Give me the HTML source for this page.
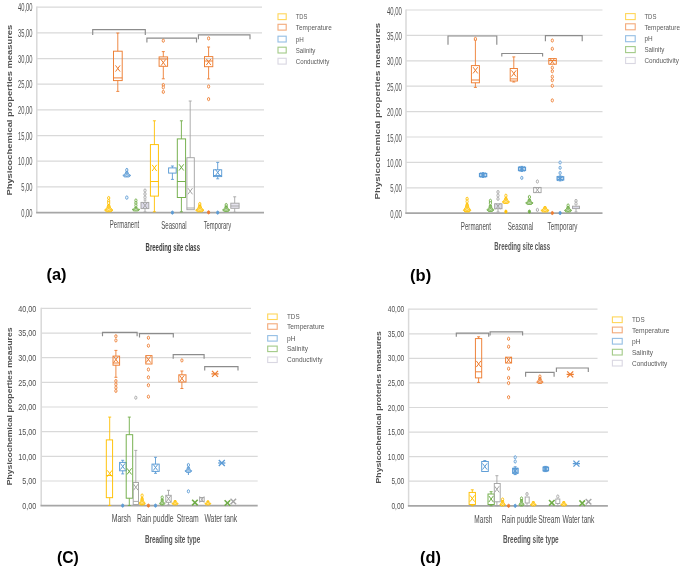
<!DOCTYPE html>
<html><head><meta charset="utf-8"><style>
html,body{margin:0;padding:0;background:#fff;overflow:hidden;}
svg{display:block;font-family:"Liberation Sans",sans-serif;filter:blur(0.45px);}
</style></head><body>
<svg width="685" height="573" viewBox="0 0 685 573">
<rect width="685" height="573" fill="#fff"/>
<line x1="36.8" y1="186.9" x2="264.0" y2="186.9" stroke="#D9D9D9" stroke-width="1.2" />
<line x1="36.8" y1="161.2" x2="264.0" y2="161.2" stroke="#D9D9D9" stroke-width="1.2" />
<line x1="36.8" y1="135.6" x2="264.0" y2="135.6" stroke="#D9D9D9" stroke-width="1.2" />
<line x1="36.8" y1="109.9" x2="264.0" y2="109.9" stroke="#D9D9D9" stroke-width="1.2" />
<line x1="36.8" y1="84.2" x2="264.0" y2="84.2" stroke="#D9D9D9" stroke-width="1.2" />
<line x1="36.8" y1="58.6" x2="262.0" y2="58.6" stroke="#D9D9D9" stroke-width="1.2" />
<line x1="36.8" y1="32.9" x2="262.0" y2="32.9" stroke="#D9D9D9" stroke-width="1.2" />
<line x1="36.8" y1="7.2" x2="262.0" y2="7.2" stroke="#D9D9D9" stroke-width="1.2" />
<line x1="36.8" y1="6.6" x2="36.8" y2="212.6" stroke="#D9D9D9" stroke-width="1.5" />
<line x1="36.1" y1="212.6" x2="264.0" y2="212.6" stroke="#A6A6A6" stroke-width="1.8" />
<text transform="translate(32.4,216.7)" font-size="11" text-anchor="end" font-weight="normal" fill="#4F4F4F" textLength="11.2" lengthAdjust="spacingAndGlyphs">0,00</text>
<text transform="translate(32.4,191.0)" font-size="11" text-anchor="end" font-weight="normal" fill="#4F4F4F" textLength="11.2" lengthAdjust="spacingAndGlyphs">5,00</text>
<text transform="translate(32.4,165.3)" font-size="11" text-anchor="end" font-weight="normal" fill="#4F4F4F" textLength="14.4" lengthAdjust="spacingAndGlyphs">10,00</text>
<text transform="translate(32.4,139.7)" font-size="11" text-anchor="end" font-weight="normal" fill="#4F4F4F" textLength="14.4" lengthAdjust="spacingAndGlyphs">15,00</text>
<text transform="translate(32.4,114.0)" font-size="11" text-anchor="end" font-weight="normal" fill="#4F4F4F" textLength="14.4" lengthAdjust="spacingAndGlyphs">20,00</text>
<text transform="translate(32.4,88.3)" font-size="11" text-anchor="end" font-weight="normal" fill="#4F4F4F" textLength="14.4" lengthAdjust="spacingAndGlyphs">25,00</text>
<text transform="translate(32.4,62.7)" font-size="11" text-anchor="end" font-weight="normal" fill="#4F4F4F" textLength="14.4" lengthAdjust="spacingAndGlyphs">30,00</text>
<text transform="translate(32.4,37.0)" font-size="11" text-anchor="end" font-weight="normal" fill="#4F4F4F" textLength="14.4" lengthAdjust="spacingAndGlyphs">35,00</text>
<text transform="translate(32.4,11.3)" font-size="11" text-anchor="end" font-weight="normal" fill="#4F4F4F" textLength="14.4" lengthAdjust="spacingAndGlyphs">40,00</text>
<text transform="translate(11.6,195.6) rotate(-90)" font-size="7.9" text-anchor="start" font-weight="bold" fill="#505050" textLength="170.9" lengthAdjust="spacingAndGlyphs">Physicochemical properties measures</text>
<text transform="translate(124.5,228.2)" font-size="10" text-anchor="middle" font-weight="normal" fill="#4F4F4F" textLength="29.4" lengthAdjust="spacingAndGlyphs">Permanent</text>
<text transform="translate(173.9,228.8)" font-size="10" text-anchor="middle" font-weight="normal" fill="#4F4F4F" textLength="25.5" lengthAdjust="spacingAndGlyphs">Seasonal</text>
<text transform="translate(217.4,229.0)" font-size="10" text-anchor="middle" font-weight="normal" fill="#4F4F4F" textLength="27.5" lengthAdjust="spacingAndGlyphs">Temporary</text>
<text transform="translate(172.8,251.0)" font-size="10" text-anchor="middle" font-weight="bold" fill="#404040" textLength="54.4" lengthAdjust="spacingAndGlyphs">Breeding site class</text>
<text transform="translate(56.5,280.0)" font-size="16.5" text-anchor="middle" font-weight="bold" fill="#000" textLength="20.0" lengthAdjust="spacingAndGlyphs">(a)</text>
<polyline points="92.7,35.1 92.7,29.6 145.3,29.6 145.3,35.1" fill="none" stroke="#8C8C8C" stroke-width="1.15"/>
<polyline points="146.9,42.5 146.9,38.1 196.5,38.1 196.5,42.5" fill="none" stroke="#8C8C8C" stroke-width="1.15"/>
<polyline points="198.4,39.3 198.4,34.9 250.0,34.9 250.0,39.3" fill="none" stroke="#8C8C8C" stroke-width="1.15"/>
<line x1="117.8" y1="33.0" x2="117.8" y2="51.2" stroke="#ED7D31" stroke-width="0.9" />
<line x1="117.8" y1="80.6" x2="117.8" y2="91.4" stroke="#ED7D31" stroke-width="0.9" />
<line x1="116.3" y1="33.0" x2="119.3" y2="33.0" stroke="#ED7D31" stroke-width="0.9" />
<line x1="116.3" y1="91.4" x2="119.3" y2="91.4" stroke="#ED7D31" stroke-width="0.9" />
<rect x="113.5" y="51.2" width="8.7" height="29.4" stroke="#ED7D31" fill="none" stroke-width="0.95" />
<line x1="113.5" y1="77.9" x2="122.2" y2="77.9" stroke="#ED7D31" stroke-width="0.95" />
<line x1="115.5" y1="65.4" x2="120.1" y2="71.6" stroke="#ED7D31" stroke-width="1" />
<line x1="115.5" y1="71.6" x2="120.1" y2="65.4" stroke="#ED7D31" stroke-width="1" />
<line x1="163.3" y1="51.6" x2="163.3" y2="56.9" stroke="#ED7D31" stroke-width="0.9" />
<line x1="163.3" y1="66.3" x2="163.3" y2="78.8" stroke="#ED7D31" stroke-width="0.9" />
<line x1="161.8" y1="51.6" x2="164.8" y2="51.6" stroke="#ED7D31" stroke-width="0.9" />
<line x1="161.8" y1="78.8" x2="164.8" y2="78.8" stroke="#ED7D31" stroke-width="0.9" />
<rect x="159.1" y="56.9" width="8.5" height="9.4" stroke="#ED7D31" fill="none" stroke-width="0.95" />
<line x1="159.1" y1="59.0" x2="167.6" y2="59.0" stroke="#ED7D31" stroke-width="0.95" />
<line x1="161.0" y1="59.5" x2="165.6" y2="65.7" stroke="#ED7D31" stroke-width="1" />
<line x1="161.0" y1="65.7" x2="165.6" y2="59.5" stroke="#ED7D31" stroke-width="1" />
<ellipse cx="163.3" cy="40.7" rx="1.1" ry="1.6" stroke="#ED7D31" fill="#fff" stroke-width="0.9"/>
<ellipse cx="163.3" cy="85.0" rx="1.1" ry="1.6" stroke="#ED7D31" fill="#fff" stroke-width="0.9"/>
<ellipse cx="163.3" cy="87.4" rx="1.1" ry="1.6" stroke="#ED7D31" fill="#fff" stroke-width="0.9"/>
<ellipse cx="163.3" cy="91.9" rx="1.1" ry="1.6" stroke="#ED7D31" fill="#fff" stroke-width="0.9"/>
<line x1="208.6" y1="47.0" x2="208.6" y2="56.6" stroke="#ED7D31" stroke-width="0.9" />
<line x1="208.6" y1="66.7" x2="208.6" y2="78.9" stroke="#ED7D31" stroke-width="0.9" />
<line x1="207.1" y1="47.0" x2="210.1" y2="47.0" stroke="#ED7D31" stroke-width="0.9" />
<line x1="207.1" y1="78.9" x2="210.1" y2="78.9" stroke="#ED7D31" stroke-width="0.9" />
<rect x="204.5" y="56.6" width="8.3" height="10.1" stroke="#ED7D31" fill="none" stroke-width="0.95" />
<line x1="204.5" y1="61.0" x2="212.8" y2="61.0" stroke="#ED7D31" stroke-width="0.95" />
<line x1="206.3" y1="58.9" x2="210.9" y2="65.1" stroke="#ED7D31" stroke-width="1" />
<line x1="206.3" y1="65.1" x2="210.9" y2="58.9" stroke="#ED7D31" stroke-width="1" />
<ellipse cx="208.6" cy="38.4" rx="1.1" ry="1.6" stroke="#ED7D31" fill="#fff" stroke-width="0.9"/>
<ellipse cx="208.6" cy="86.5" rx="1.1" ry="1.6" stroke="#ED7D31" fill="#fff" stroke-width="0.9"/>
<ellipse cx="208.6" cy="99.1" rx="1.1" ry="1.6" stroke="#ED7D31" fill="#fff" stroke-width="0.9"/>
<ellipse cx="208.6" cy="212.3" rx="1.1" ry="1.6" stroke="#ED7D31" fill="#ED7D31" stroke-width="0.9"/>
<ellipse cx="108.7" cy="198.0" rx="1.1" ry="1.6" stroke="#FFC000" fill="#fff" stroke-width="0.9"/>
<ellipse cx="108.7" cy="201.0" rx="1.1" ry="1.6" stroke="#FFC000" fill="#fff" stroke-width="0.9"/>
<ellipse cx="108.7" cy="203.0" rx="1.1" ry="1.6" stroke="#FFC000" fill="#fff" stroke-width="0.9"/>
<polygon points="107.8,204.5 109.6,204.5 110.6,207.8 113.0,210.2 111.0,211.8 106.4,211.8 104.5,210.2 106.8,207.8" fill="#FFC000" fill-opacity="0.8" stroke="#FFC000" stroke-width="0.8" stroke-linejoin="round"/>
<line x1="106.7" y1="208.4" x2="110.7" y2="210.8" stroke="#fff" stroke-width="0.6" stroke-opacity="0.55"/>
<line x1="106.7" y1="210.8" x2="110.7" y2="208.4" stroke="#fff" stroke-width="0.6" stroke-opacity="0.55"/>
<line x1="154.4" y1="120.8" x2="154.4" y2="144.6" stroke="#FFC000" stroke-width="0.9" />
<line x1="154.4" y1="196.1" x2="154.4" y2="211.8" stroke="#FFC000" stroke-width="0.9" />
<line x1="152.9" y1="120.8" x2="155.9" y2="120.8" stroke="#FFC000" stroke-width="0.9" />
<line x1="152.9" y1="211.8" x2="155.9" y2="211.8" stroke="#FFC000" stroke-width="0.9" />
<rect x="150.4" y="144.6" width="8.0" height="51.5" stroke="#FFC000" fill="none" stroke-width="0.95" />
<line x1="150.4" y1="181.5" x2="158.4" y2="181.5" stroke="#FFC000" stroke-width="0.95" />
<line x1="152.1" y1="164.8" x2="156.7" y2="171.0" stroke="#FFC000" stroke-width="1" />
<line x1="152.1" y1="171.0" x2="156.7" y2="164.8" stroke="#FFC000" stroke-width="1" />
<ellipse cx="199.8" cy="204.0" rx="1.1" ry="1.6" stroke="#FFC000" fill="#fff" stroke-width="0.9"/>
<polygon points="198.9,205.0 200.7,205.0 201.7,208.1 204.0,210.2 202.1,211.8 197.5,211.8 195.6,210.2 197.9,208.1" fill="#FFC000" fill-opacity="0.8" stroke="#FFC000" stroke-width="0.8" stroke-linejoin="round"/>
<line x1="197.8" y1="208.6" x2="201.8" y2="211.0" stroke="#fff" stroke-width="0.6" stroke-opacity="0.55"/>
<line x1="197.8" y1="211.0" x2="201.8" y2="208.6" stroke="#fff" stroke-width="0.6" stroke-opacity="0.55"/>
<line x1="126.8" y1="168.0" x2="126.8" y2="171.5" stroke="#5B9BD5" stroke-width="1" />
<ellipse cx="126.8" cy="170.0" rx="1.1" ry="1.6" stroke="#5B9BD5" fill="#fff" stroke-width="0.9"/>
<polygon points="125.9,171.5 127.7,171.5 128.6,174.0 130.8,175.4 129.0,177.0 124.6,177.0 122.8,175.4 125.0,174.0" fill="#5B9BD5" fill-opacity="0.8" stroke="#5B9BD5" stroke-width="0.8" stroke-linejoin="round"/>
<line x1="124.8" y1="174.2" x2="128.8" y2="176.5" stroke="#fff" stroke-width="0.6" stroke-opacity="0.55"/>
<line x1="124.8" y1="176.5" x2="128.8" y2="174.2" stroke="#fff" stroke-width="0.6" stroke-opacity="0.55"/>
<ellipse cx="126.8" cy="197.6" rx="1.2" ry="1.7" stroke="#5B9BD5" fill="#fff" stroke-width="0.9"/>
<line x1="172.4" y1="166.0" x2="172.4" y2="167.9" stroke="#5B9BD5" stroke-width="0.9" />
<line x1="172.4" y1="173.1" x2="172.4" y2="179.4" stroke="#5B9BD5" stroke-width="0.9" />
<line x1="170.9" y1="166.0" x2="173.9" y2="166.0" stroke="#5B9BD5" stroke-width="0.9" />
<line x1="170.9" y1="179.4" x2="173.9" y2="179.4" stroke="#5B9BD5" stroke-width="0.9" />
<rect x="168.6" y="167.9" width="7.6" height="5.2" stroke="#5B9BD5" fill="none" stroke-width="0.95" />
<ellipse cx="172.4" cy="212.6" rx="1.1" ry="1.6" stroke="#5B9BD5" fill="#5B9BD5" stroke-width="0.9"/>
<line x1="217.7" y1="162.4" x2="217.7" y2="169.8" stroke="#5B9BD5" stroke-width="0.9" />
<line x1="217.7" y1="176.6" x2="217.7" y2="178.8" stroke="#5B9BD5" stroke-width="0.9" />
<line x1="216.2" y1="162.4" x2="219.2" y2="162.4" stroke="#5B9BD5" stroke-width="0.9" />
<line x1="216.2" y1="178.8" x2="219.2" y2="178.8" stroke="#5B9BD5" stroke-width="0.9" />
<rect x="213.5" y="169.8" width="8.2" height="6.8" stroke="#5B9BD5" fill="none" stroke-width="0.95" />
<line x1="213.5" y1="175.5" x2="221.7" y2="175.5" stroke="#5B9BD5" stroke-width="0.95" />
<line x1="215.4" y1="169.4" x2="220.0" y2="175.6" stroke="#5B9BD5" stroke-width="1" />
<line x1="215.4" y1="175.6" x2="220.0" y2="169.4" stroke="#5B9BD5" stroke-width="1" />
<ellipse cx="217.7" cy="212.6" rx="1.1" ry="1.6" stroke="#5B9BD5" fill="#5B9BD5" stroke-width="0.9"/>
<ellipse cx="135.9" cy="200.5" rx="1.1" ry="1.6" stroke="#70AD47" fill="#fff" stroke-width="0.9"/>
<ellipse cx="135.9" cy="203.0" rx="1.1" ry="1.6" stroke="#70AD47" fill="#fff" stroke-width="0.9"/>
<ellipse cx="135.9" cy="205.5" rx="1.1" ry="1.6" stroke="#70AD47" fill="#fff" stroke-width="0.9"/>
<polygon points="135.0,207.0 136.8,207.0 137.6,208.8 139.8,209.4 138.0,211.0 133.8,211.0 132.1,209.4 134.2,208.8" fill="#70AD47" fill-opacity="0.8" stroke="#70AD47" stroke-width="0.8" stroke-linejoin="round"/>
<line x1="134.0" y1="208.6" x2="137.8" y2="211.0" stroke="#fff" stroke-width="0.6" stroke-opacity="0.55"/>
<line x1="134.0" y1="211.0" x2="137.8" y2="208.6" stroke="#fff" stroke-width="0.6" stroke-opacity="0.55"/>
<line x1="181.4" y1="120.8" x2="181.4" y2="138.9" stroke="#70AD47" stroke-width="0.9" />
<line x1="181.4" y1="197.5" x2="181.4" y2="211.8" stroke="#70AD47" stroke-width="0.9" />
<line x1="179.9" y1="120.8" x2="182.9" y2="120.8" stroke="#70AD47" stroke-width="0.9" />
<line x1="179.9" y1="211.8" x2="182.9" y2="211.8" stroke="#70AD47" stroke-width="0.9" />
<rect x="177.3" y="138.9" width="8.3" height="58.6" stroke="#70AD47" fill="none" stroke-width="0.95" />
<line x1="177.3" y1="181.5" x2="185.6" y2="181.5" stroke="#70AD47" stroke-width="0.95" />
<line x1="179.1" y1="164.3" x2="183.7" y2="170.5" stroke="#70AD47" stroke-width="1" />
<line x1="179.1" y1="170.5" x2="183.7" y2="164.3" stroke="#70AD47" stroke-width="1" />
<ellipse cx="226.2" cy="205.0" rx="1.1" ry="1.6" stroke="#70AD47" fill="#fff" stroke-width="0.9"/>
<polygon points="225.3,206.0 227.1,206.0 227.9,208.5 229.9,209.9 228.2,211.5 224.2,211.5 222.5,209.9 224.5,208.5" fill="#70AD47" fill-opacity="0.8" stroke="#70AD47" stroke-width="0.8" stroke-linejoin="round"/>
<line x1="224.3" y1="208.7" x2="228.0" y2="211.0" stroke="#fff" stroke-width="0.6" stroke-opacity="0.55"/>
<line x1="224.3" y1="211.0" x2="228.0" y2="208.7" stroke="#fff" stroke-width="0.6" stroke-opacity="0.55"/>
<line x1="145.0" y1="200.0" x2="145.0" y2="202.4" stroke="#A5A5A5" stroke-width="0.9" />
<line x1="145.0" y1="208.6" x2="145.0" y2="212.0" stroke="#A5A5A5" stroke-width="0.9" />
<line x1="143.5" y1="200.0" x2="146.5" y2="200.0" stroke="#A5A5A5" stroke-width="0.9" />
<line x1="143.5" y1="212.0" x2="146.5" y2="212.0" stroke="#A5A5A5" stroke-width="0.9" />
<rect x="141.0" y="202.4" width="7.8" height="6.2" stroke="#A5A5A5" fill="#DCDAE8" stroke-width="0.95" />
<line x1="142.7" y1="202.4" x2="147.3" y2="208.6" stroke="#A5A5A5" stroke-width="1" />
<line x1="142.7" y1="208.6" x2="147.3" y2="202.4" stroke="#A5A5A5" stroke-width="1" />
<ellipse cx="145.0" cy="190.5" rx="1.1" ry="1.6" stroke="#A5A5A5" fill="#fff" stroke-width="0.9"/>
<ellipse cx="145.0" cy="194.0" rx="1.1" ry="1.6" stroke="#A5A5A5" fill="#fff" stroke-width="0.9"/>
<ellipse cx="145.0" cy="197.4" rx="1.1" ry="1.6" stroke="#A5A5A5" fill="#fff" stroke-width="0.9"/>
<line x1="190.2" y1="101.0" x2="190.2" y2="157.7" stroke="#A5A5A5" stroke-width="0.9" />
<line x1="188.7" y1="101.0" x2="191.7" y2="101.0" stroke="#A5A5A5" stroke-width="0.9" />
<rect x="186.9" y="157.7" width="7.4" height="52.0" stroke="#A5A5A5" fill="none" stroke-width="0.95" />
<line x1="186.9" y1="208.0" x2="194.3" y2="208.0" stroke="#A5A5A5" stroke-width="0.95" />
<line x1="187.9" y1="188.1" x2="192.5" y2="194.3" stroke="#A5A5A5" stroke-width="1" />
<line x1="187.9" y1="194.3" x2="192.5" y2="188.1" stroke="#A5A5A5" stroke-width="1" />
<line x1="234.7" y1="196.8" x2="234.7" y2="203.2" stroke="#A5A5A5" stroke-width="0.9" />
<line x1="234.7" y1="208.3" x2="234.7" y2="212.3" stroke="#A5A5A5" stroke-width="0.9" />
<line x1="233.2" y1="196.8" x2="236.2" y2="196.8" stroke="#A5A5A5" stroke-width="0.9" />
<line x1="233.2" y1="212.3" x2="236.2" y2="212.3" stroke="#A5A5A5" stroke-width="0.9" />
<rect x="230.8" y="203.2" width="8.3" height="5.1" stroke="#A5A5A5" fill="#E6E4EE" stroke-width="0.95" />
<line x1="230.8" y1="206.0" x2="239.1" y2="206.0" stroke="#A5A5A5" stroke-width="0.95" />
<rect x="278.0" y="13.8" width="8.2" height="5.8" stroke="#FFC000" fill="#fff" stroke-width="1.1" stroke-opacity="0.65"/>
<text transform="translate(295.8,19.3)" font-size="7.4" text-anchor="start" font-weight="normal" fill="#595959" textLength="11.6" lengthAdjust="spacingAndGlyphs">TDS</text>
<rect x="278.0" y="24.3" width="8.2" height="5.8" stroke="#ED7D31" fill="#fff" stroke-width="1.1" stroke-opacity="0.65"/>
<text transform="translate(295.8,29.8)" font-size="7.4" text-anchor="start" font-weight="normal" fill="#595959" textLength="36.0" lengthAdjust="spacingAndGlyphs">Temperature</text>
<rect x="278.0" y="36.2" width="8.2" height="5.8" stroke="#5B9BD5" fill="#fff" stroke-width="1.1" stroke-opacity="0.65"/>
<text transform="translate(295.8,41.7)" font-size="7.4" text-anchor="start" font-weight="normal" fill="#595959" textLength="8.0" lengthAdjust="spacingAndGlyphs">pH</text>
<rect x="278.0" y="47.2" width="8.2" height="5.8" stroke="#70AD47" fill="#fff" stroke-width="1.1" stroke-opacity="0.65"/>
<text transform="translate(295.8,52.7)" font-size="7.4" text-anchor="start" font-weight="normal" fill="#595959" textLength="19.6" lengthAdjust="spacingAndGlyphs">Salinity</text>
<rect x="278.0" y="58.3" width="8.2" height="5.8" stroke="#C4C2D2" fill="#fff" stroke-width="1.1" stroke-opacity="0.65"/>
<text transform="translate(295.8,63.8)" font-size="7.4" text-anchor="start" font-weight="normal" fill="#595959" textLength="33.4" lengthAdjust="spacingAndGlyphs">Conductivity</text>
<line x1="406.0" y1="187.8" x2="602.5" y2="187.8" stroke="#D9D9D9" stroke-width="1.2" />
<line x1="406.0" y1="162.4" x2="602.5" y2="162.4" stroke="#D9D9D9" stroke-width="1.2" />
<line x1="406.0" y1="137.0" x2="602.5" y2="137.0" stroke="#D9D9D9" stroke-width="1.2" />
<line x1="406.0" y1="111.6" x2="602.5" y2="111.6" stroke="#D9D9D9" stroke-width="1.2" />
<line x1="406.0" y1="86.2" x2="602.5" y2="86.2" stroke="#D9D9D9" stroke-width="1.2" />
<line x1="406.0" y1="60.8" x2="602.5" y2="60.8" stroke="#D9D9D9" stroke-width="1.2" />
<line x1="406.0" y1="35.4" x2="602.5" y2="35.4" stroke="#D9D9D9" stroke-width="1.2" />
<line x1="406.0" y1="10.0" x2="602.5" y2="10.0" stroke="#D9D9D9" stroke-width="1.2" />
<line x1="406.0" y1="9.4" x2="406.0" y2="213.2" stroke="#D9D9D9" stroke-width="1.5" />
<line x1="405.3" y1="213.2" x2="602.5" y2="213.2" stroke="#A6A6A6" stroke-width="1.8" />
<text transform="translate(401.8,217.7)" font-size="11" text-anchor="end" font-weight="normal" fill="#4F4F4F" textLength="11.6" lengthAdjust="spacingAndGlyphs">0,00</text>
<text transform="translate(401.8,192.3)" font-size="11" text-anchor="end" font-weight="normal" fill="#4F4F4F" textLength="11.6" lengthAdjust="spacingAndGlyphs">5,00</text>
<text transform="translate(401.8,166.9)" font-size="11" text-anchor="end" font-weight="normal" fill="#4F4F4F" textLength="14.9" lengthAdjust="spacingAndGlyphs">10,00</text>
<text transform="translate(401.8,141.5)" font-size="11" text-anchor="end" font-weight="normal" fill="#4F4F4F" textLength="14.9" lengthAdjust="spacingAndGlyphs">15,00</text>
<text transform="translate(401.8,116.1)" font-size="11" text-anchor="end" font-weight="normal" fill="#4F4F4F" textLength="14.9" lengthAdjust="spacingAndGlyphs">20,00</text>
<text transform="translate(401.8,90.7)" font-size="11" text-anchor="end" font-weight="normal" fill="#4F4F4F" textLength="14.9" lengthAdjust="spacingAndGlyphs">25,00</text>
<text transform="translate(401.8,65.3)" font-size="11" text-anchor="end" font-weight="normal" fill="#4F4F4F" textLength="14.9" lengthAdjust="spacingAndGlyphs">30,00</text>
<text transform="translate(401.8,39.9)" font-size="11" text-anchor="end" font-weight="normal" fill="#4F4F4F" textLength="14.9" lengthAdjust="spacingAndGlyphs">35,00</text>
<text transform="translate(401.8,14.5)" font-size="11" text-anchor="end" font-weight="normal" fill="#4F4F4F" textLength="14.9" lengthAdjust="spacingAndGlyphs">40,00</text>
<text transform="translate(380.4,199.4) rotate(-90)" font-size="7.9" text-anchor="start" font-weight="bold" fill="#505050" textLength="176.6" lengthAdjust="spacingAndGlyphs">Physicochemical properties measures</text>
<text transform="translate(475.9,229.8)" font-size="10" text-anchor="middle" font-weight="normal" fill="#4F4F4F" textLength="30.2" lengthAdjust="spacingAndGlyphs">Permanent</text>
<text transform="translate(520.5,230.0)" font-size="10" text-anchor="middle" font-weight="normal" fill="#4F4F4F" textLength="25.5" lengthAdjust="spacingAndGlyphs">Seasonal</text>
<text transform="translate(562.5,229.6)" font-size="10" text-anchor="middle" font-weight="normal" fill="#4F4F4F" textLength="29.8" lengthAdjust="spacingAndGlyphs">Temporary</text>
<text transform="translate(522.2,249.7)" font-size="10" text-anchor="middle" font-weight="bold" fill="#595959" textLength="55.7" lengthAdjust="spacingAndGlyphs">Breeding site class</text>
<text transform="translate(420.6,280.5)" font-size="16.5" text-anchor="middle" font-weight="bold" fill="#000" textLength="21.1" lengthAdjust="spacingAndGlyphs">(b)</text>
<polyline points="448.0,44.8 448.0,36.0 496.8,36.0 496.8,44.8" fill="none" stroke="#8C8C8C" stroke-width="1.15"/>
<polyline points="501.8,56.4 501.8,53.5 542.6,53.5 542.6,56.4" fill="none" stroke="#8C8C8C" stroke-width="1.15"/>
<polyline points="545.4,41.3 545.4,35.6 582.2,35.6 582.2,41.3" fill="none" stroke="#8C8C8C" stroke-width="1.15"/>
<line x1="475.4" y1="40.0" x2="475.4" y2="65.6" stroke="#ED7D31" stroke-width="0.9" />
<line x1="475.4" y1="82.8" x2="475.4" y2="87.4" stroke="#ED7D31" stroke-width="0.9" />
<line x1="473.9" y1="40.0" x2="476.9" y2="40.0" stroke="#ED7D31" stroke-width="0.9" />
<line x1="473.9" y1="87.4" x2="476.9" y2="87.4" stroke="#ED7D31" stroke-width="0.9" />
<rect x="471.4" y="65.6" width="8.0" height="17.2" stroke="#ED7D31" fill="none" stroke-width="0.95" />
<line x1="471.4" y1="80.0" x2="479.4" y2="80.0" stroke="#ED7D31" stroke-width="0.95" />
<line x1="473.1" y1="67.2" x2="477.7" y2="73.4" stroke="#ED7D31" stroke-width="1" />
<line x1="473.1" y1="73.4" x2="477.7" y2="67.2" stroke="#ED7D31" stroke-width="1" />
<ellipse cx="475.4" cy="38.9" rx="1.1" ry="1.6" stroke="#ED7D31" fill="#fff" stroke-width="0.9"/>
<line x1="513.8" y1="56.9" x2="513.8" y2="68.5" stroke="#ED7D31" stroke-width="0.9" />
<line x1="513.8" y1="81.0" x2="513.8" y2="82.0" stroke="#ED7D31" stroke-width="0.9" />
<line x1="512.3" y1="56.9" x2="515.3" y2="56.9" stroke="#ED7D31" stroke-width="0.9" />
<line x1="512.3" y1="82.0" x2="515.3" y2="82.0" stroke="#ED7D31" stroke-width="0.9" />
<rect x="510.2" y="68.5" width="7.2" height="12.5" stroke="#ED7D31" fill="none" stroke-width="0.95" />
<line x1="510.2" y1="78.9" x2="517.4" y2="78.9" stroke="#ED7D31" stroke-width="0.95" />
<line x1="511.5" y1="70.4" x2="516.1" y2="76.6" stroke="#ED7D31" stroke-width="1" />
<line x1="511.5" y1="76.6" x2="516.1" y2="70.4" stroke="#ED7D31" stroke-width="1" />
<rect x="548.8" y="58.6" width="7.5" height="5.6" stroke="#ED7D31" fill="none" stroke-width="0.95" />
<line x1="548.8" y1="60.5" x2="556.3" y2="60.5" stroke="#ED7D31" stroke-width="0.95" />
<line x1="550.0" y1="58.4" x2="554.6" y2="64.6" stroke="#ED7D31" stroke-width="1" />
<line x1="550.0" y1="64.6" x2="554.6" y2="58.4" stroke="#ED7D31" stroke-width="1" />
<ellipse cx="552.3" cy="40.5" rx="1.1" ry="1.6" stroke="#ED7D31" fill="#fff" stroke-width="0.9"/>
<ellipse cx="552.3" cy="48.8" rx="1.1" ry="1.6" stroke="#ED7D31" fill="#fff" stroke-width="0.9"/>
<ellipse cx="552.3" cy="67.7" rx="1.1" ry="1.6" stroke="#ED7D31" fill="#fff" stroke-width="0.9"/>
<ellipse cx="552.3" cy="71.2" rx="1.1" ry="1.6" stroke="#ED7D31" fill="#fff" stroke-width="0.9"/>
<ellipse cx="552.3" cy="76.7" rx="1.1" ry="1.6" stroke="#ED7D31" fill="#fff" stroke-width="0.9"/>
<ellipse cx="552.3" cy="80.2" rx="1.1" ry="1.6" stroke="#ED7D31" fill="#fff" stroke-width="0.9"/>
<ellipse cx="552.3" cy="85.8" rx="1.1" ry="1.6" stroke="#ED7D31" fill="#fff" stroke-width="0.9"/>
<ellipse cx="552.3" cy="100.4" rx="1.1" ry="1.6" stroke="#ED7D31" fill="#fff" stroke-width="0.9"/>
<ellipse cx="552.3" cy="213.0" rx="1.1" ry="1.6" stroke="#ED7D31" fill="#ED7D31" stroke-width="0.9"/>
<ellipse cx="467.1" cy="198.8" rx="1.1" ry="1.6" stroke="#FFC000" fill="#fff" stroke-width="0.9"/>
<ellipse cx="467.1" cy="201.5" rx="1.1" ry="1.6" stroke="#FFC000" fill="#fff" stroke-width="0.9"/>
<polygon points="466.2,203.5 468.0,203.5 468.8,207.3 470.9,210.4 469.2,212.0 465.0,212.0 463.3,210.4 465.4,207.3" fill="#FFC000" fill-opacity="0.8" stroke="#FFC000" stroke-width="0.8" stroke-linejoin="round"/>
<line x1="465.2" y1="208.2" x2="469.0" y2="210.6" stroke="#fff" stroke-width="0.6" stroke-opacity="0.55"/>
<line x1="465.2" y1="210.6" x2="469.0" y2="208.2" stroke="#fff" stroke-width="0.6" stroke-opacity="0.55"/>
<ellipse cx="505.9" cy="195.7" rx="1.1" ry="1.6" stroke="#FFC000" fill="#fff" stroke-width="0.9"/>
<ellipse cx="505.9" cy="211.6" rx="1.1" ry="1.6" stroke="#FFC000" fill="#FFC000" stroke-width="0.9"/>
<polygon points="505.0,197.5 506.8,197.5 507.6,200.2 509.6,201.9 507.9,203.5 503.9,203.5 502.2,201.9 504.2,200.2" fill="#FFC000" fill-opacity="0.8" stroke="#FFC000" stroke-width="0.8" stroke-linejoin="round"/>
<line x1="504.0" y1="200.5" x2="507.8" y2="202.9" stroke="#fff" stroke-width="0.6" stroke-opacity="0.55"/>
<line x1="504.0" y1="202.9" x2="507.8" y2="200.5" stroke="#fff" stroke-width="0.6" stroke-opacity="0.55"/>
<polygon points="544.1,206.5 545.9,206.5 546.8,209.0 549.1,210.4 547.3,212.0 542.7,212.0 540.9,210.4 543.2,209.0" fill="#FFC000" fill-opacity="0.8" stroke="#FFC000" stroke-width="0.8" stroke-linejoin="round"/>
<line x1="543.0" y1="209.2" x2="547.0" y2="211.5" stroke="#fff" stroke-width="0.6" stroke-opacity="0.55"/>
<line x1="543.0" y1="211.5" x2="547.0" y2="209.2" stroke="#fff" stroke-width="0.6" stroke-opacity="0.55"/>
<line x1="483.0" y1="172.3" x2="483.0" y2="177.8" stroke="#5B9BD5" stroke-width="1.1" />
<line x1="481.5" y1="172.7" x2="484.5" y2="172.7" stroke="#5B9BD5" stroke-width="1" />
<line x1="481.5" y1="177.4" x2="484.5" y2="177.4" stroke="#5B9BD5" stroke-width="1" />
<rect x="479.5" y="173.5" width="7.2" height="3.1" fill="#5B9BD5" fill-opacity="0.35" stroke="#5B9BD5" stroke-width="1.2"/>
<line x1="480.0" y1="172.8" x2="486.0" y2="177.3" stroke="#5B9BD5" stroke-width="1.1" />
<line x1="480.0" y1="177.3" x2="486.0" y2="172.8" stroke="#5B9BD5" stroke-width="1.1" />
<ellipse cx="521.8" cy="177.9" rx="1.1" ry="1.6" stroke="#5B9BD5" fill="#fff" stroke-width="0.9"/>
<line x1="521.8" y1="166.0" x2="521.8" y2="171.8" stroke="#5B9BD5" stroke-width="1.1" />
<line x1="520.3" y1="166.4" x2="523.3" y2="166.4" stroke="#5B9BD5" stroke-width="1" />
<line x1="520.3" y1="171.4" x2="523.3" y2="171.4" stroke="#5B9BD5" stroke-width="1" />
<rect x="518.5" y="167.3" width="7.0" height="3.2" fill="#5B9BD5" fill-opacity="0.35" stroke="#5B9BD5" stroke-width="1.2"/>
<line x1="518.8" y1="166.5" x2="524.8" y2="171.3" stroke="#5B9BD5" stroke-width="1.1" />
<line x1="518.8" y1="171.3" x2="524.8" y2="166.5" stroke="#5B9BD5" stroke-width="1.1" />
<ellipse cx="560.1" cy="162.5" rx="1.1" ry="1.6" stroke="#5B9BD5" fill="#fff" stroke-width="0.9"/>
<ellipse cx="560.1" cy="167.8" rx="1.1" ry="1.6" stroke="#5B9BD5" fill="#fff" stroke-width="0.9"/>
<ellipse cx="560.1" cy="173.0" rx="1.1" ry="1.6" stroke="#5B9BD5" fill="#fff" stroke-width="0.9"/>
<ellipse cx="560.1" cy="213.0" rx="1.1" ry="1.6" stroke="#5B9BD5" fill="#5B9BD5" stroke-width="0.9"/>
<line x1="560.1" y1="175.6" x2="560.1" y2="181.2" stroke="#5B9BD5" stroke-width="1.1" />
<line x1="558.6" y1="176.0" x2="561.6" y2="176.0" stroke="#5B9BD5" stroke-width="1" />
<line x1="558.6" y1="180.8" x2="561.6" y2="180.8" stroke="#5B9BD5" stroke-width="1" />
<rect x="557.1" y="176.8" width="6.6" height="3.1" fill="#5B9BD5" fill-opacity="0.35" stroke="#5B9BD5" stroke-width="1.2"/>
<line x1="557.1" y1="176.1" x2="563.1" y2="180.7" stroke="#5B9BD5" stroke-width="1.1" />
<line x1="557.1" y1="180.7" x2="563.1" y2="176.1" stroke="#5B9BD5" stroke-width="1.1" />
<ellipse cx="490.4" cy="200.8" rx="1.1" ry="1.6" stroke="#70AD47" fill="#fff" stroke-width="0.9"/>
<ellipse cx="490.4" cy="203.2" rx="1.1" ry="1.6" stroke="#70AD47" fill="#fff" stroke-width="0.9"/>
<polygon points="489.5,205.0 491.3,205.0 492.0,207.9 494.0,209.9 492.4,211.5 488.4,211.5 486.8,209.9 488.8,207.9" fill="#70AD47" fill-opacity="0.8" stroke="#70AD47" stroke-width="0.8" stroke-linejoin="round"/>
<line x1="488.6" y1="208.4" x2="492.2" y2="210.8" stroke="#fff" stroke-width="0.6" stroke-opacity="0.55"/>
<line x1="488.6" y1="210.8" x2="492.2" y2="208.4" stroke="#fff" stroke-width="0.6" stroke-opacity="0.55"/>
<ellipse cx="529.4" cy="197.0" rx="1.1" ry="1.6" stroke="#70AD47" fill="#fff" stroke-width="0.9"/>
<ellipse cx="529.4" cy="211.6" rx="1.1" ry="1.6" stroke="#70AD47" fill="#70AD47" stroke-width="0.9"/>
<polygon points="528.5,199.0 530.3,199.0 531.1,201.5 533.1,202.9 531.5,204.5 527.3,204.5 525.6,202.9 527.7,201.5" fill="#70AD47" fill-opacity="0.8" stroke="#70AD47" stroke-width="0.8" stroke-linejoin="round"/>
<line x1="527.5" y1="201.7" x2="531.3" y2="204.0" stroke="#fff" stroke-width="0.6" stroke-opacity="0.55"/>
<line x1="527.5" y1="204.0" x2="531.3" y2="201.7" stroke="#fff" stroke-width="0.6" stroke-opacity="0.55"/>
<ellipse cx="568.1" cy="205.5" rx="1.1" ry="1.6" stroke="#70AD47" fill="#fff" stroke-width="0.9"/>
<polygon points="567.2,206.5 569.0,206.5 569.8,209.0 571.8,210.4 570.1,212.0 566.1,212.0 564.4,210.4 566.4,209.0" fill="#70AD47" fill-opacity="0.8" stroke="#70AD47" stroke-width="0.8" stroke-linejoin="round"/>
<line x1="566.2" y1="209.2" x2="570.0" y2="211.5" stroke="#fff" stroke-width="0.6" stroke-opacity="0.55"/>
<line x1="566.2" y1="211.5" x2="570.0" y2="209.2" stroke="#fff" stroke-width="0.6" stroke-opacity="0.55"/>
<line x1="498.0" y1="208.7" x2="498.0" y2="212.0" stroke="#A5A5A5" stroke-width="0.9" />
<line x1="496.5" y1="212.0" x2="499.5" y2="212.0" stroke="#A5A5A5" stroke-width="0.9" />
<rect x="494.6" y="203.8" width="7.4" height="4.9" stroke="#A5A5A5" fill="#DCDAE8" stroke-width="0.95" />
<line x1="495.7" y1="203.1" x2="500.3" y2="209.3" stroke="#A5A5A5" stroke-width="1" />
<line x1="495.7" y1="209.3" x2="500.3" y2="203.1" stroke="#A5A5A5" stroke-width="1" />
<ellipse cx="498.0" cy="192.0" rx="1.1" ry="1.6" stroke="#A5A5A5" fill="#fff" stroke-width="0.9"/>
<ellipse cx="498.0" cy="195.5" rx="1.1" ry="1.6" stroke="#A5A5A5" fill="#fff" stroke-width="0.9"/>
<ellipse cx="498.0" cy="198.9" rx="1.1" ry="1.6" stroke="#A5A5A5" fill="#fff" stroke-width="0.9"/>
<rect x="533.6" y="187.5" width="7.5" height="5.1" stroke="#A5A5A5" fill="none" stroke-width="0.95" />
<line x1="535.1" y1="186.9" x2="539.7" y2="193.1" stroke="#A5A5A5" stroke-width="1" />
<line x1="535.1" y1="193.1" x2="539.7" y2="186.9" stroke="#A5A5A5" stroke-width="1" />
<ellipse cx="537.4" cy="181.5" rx="1.1" ry="1.6" stroke="#A5A5A5" fill="#fff" stroke-width="0.9"/>
<ellipse cx="537.4" cy="209.9" rx="1.1" ry="1.6" stroke="#A5A5A5" fill="#fff" stroke-width="0.9"/>
<line x1="576.0" y1="208.6" x2="576.0" y2="212.0" stroke="#A5A5A5" stroke-width="0.9" />
<line x1="574.5" y1="212.0" x2="577.5" y2="212.0" stroke="#A5A5A5" stroke-width="0.9" />
<rect x="572.5" y="206.2" width="7.0" height="2.4" stroke="#A5A5A5" fill="#DCDAE8" stroke-width="0.95" />
<ellipse cx="576.0" cy="200.9" rx="1.1" ry="1.6" stroke="#A5A5A5" fill="#fff" stroke-width="0.9"/>
<ellipse cx="576.0" cy="203.7" rx="1.1" ry="1.6" stroke="#A5A5A5" fill="#fff" stroke-width="0.9"/>
<rect x="625.6" y="13.6" width="9.6" height="6.0" stroke="#FFC000" fill="#fff" stroke-width="1.1" stroke-opacity="0.65"/>
<text transform="translate(644.4,19.3)" font-size="7.4" text-anchor="start" font-weight="normal" fill="#595959" textLength="12.0" lengthAdjust="spacingAndGlyphs">TDS</text>
<rect x="625.6" y="23.8" width="9.6" height="6.0" stroke="#ED7D31" fill="#fff" stroke-width="1.1" stroke-opacity="0.65"/>
<text transform="translate(644.4,29.5)" font-size="7.4" text-anchor="start" font-weight="normal" fill="#595959" textLength="35.6" lengthAdjust="spacingAndGlyphs">Temperature</text>
<rect x="625.6" y="35.7" width="9.6" height="6.0" stroke="#5B9BD5" fill="#fff" stroke-width="1.1" stroke-opacity="0.65"/>
<text transform="translate(644.4,41.4)" font-size="7.4" text-anchor="start" font-weight="normal" fill="#595959" textLength="8.2" lengthAdjust="spacingAndGlyphs">pH</text>
<rect x="625.6" y="46.6" width="9.6" height="6.0" stroke="#70AD47" fill="#fff" stroke-width="1.1" stroke-opacity="0.65"/>
<text transform="translate(644.4,52.3)" font-size="7.4" text-anchor="start" font-weight="normal" fill="#595959" textLength="19.8" lengthAdjust="spacingAndGlyphs">Salinity</text>
<rect x="625.6" y="57.5" width="9.6" height="6.0" stroke="#C4C2D2" fill="#fff" stroke-width="1.1" stroke-opacity="0.65"/>
<text transform="translate(644.4,63.2)" font-size="7.4" text-anchor="start" font-weight="normal" fill="#595959" textLength="34.4" lengthAdjust="spacingAndGlyphs">Conductivity</text>
<line x1="41.2" y1="481.0" x2="257.7" y2="481.0" stroke="#D9D9D9" stroke-width="1.2" />
<line x1="41.2" y1="456.3" x2="257.7" y2="456.3" stroke="#D9D9D9" stroke-width="1.2" />
<line x1="41.2" y1="431.7" x2="257.7" y2="431.7" stroke="#D9D9D9" stroke-width="1.2" />
<line x1="41.2" y1="407.0" x2="257.7" y2="407.0" stroke="#D9D9D9" stroke-width="1.2" />
<line x1="41.2" y1="382.4" x2="257.7" y2="382.4" stroke="#D9D9D9" stroke-width="1.2" />
<line x1="41.2" y1="357.7" x2="251.0" y2="357.7" stroke="#D9D9D9" stroke-width="1.2" />
<line x1="41.2" y1="333.1" x2="251.0" y2="333.1" stroke="#D9D9D9" stroke-width="1.2" />
<line x1="41.2" y1="308.4" x2="251.0" y2="308.4" stroke="#D9D9D9" stroke-width="1.2" />
<line x1="41.2" y1="307.8" x2="41.2" y2="505.6" stroke="#D9D9D9" stroke-width="1.5" />
<line x1="40.5" y1="505.6" x2="257.7" y2="505.6" stroke="#A6A6A6" stroke-width="1.8" />
<text transform="translate(36.2,508.9)" font-size="9" text-anchor="end" font-weight="normal" fill="#4F4F4F" textLength="14.0" lengthAdjust="spacingAndGlyphs">0,00</text>
<text transform="translate(36.2,484.3)" font-size="9" text-anchor="end" font-weight="normal" fill="#4F4F4F" textLength="14.0" lengthAdjust="spacingAndGlyphs">5,00</text>
<text transform="translate(36.2,459.6)" font-size="9" text-anchor="end" font-weight="normal" fill="#4F4F4F" textLength="18.0" lengthAdjust="spacingAndGlyphs">10,00</text>
<text transform="translate(36.2,435.0)" font-size="9" text-anchor="end" font-weight="normal" fill="#4F4F4F" textLength="18.0" lengthAdjust="spacingAndGlyphs">15,00</text>
<text transform="translate(36.2,410.3)" font-size="9" text-anchor="end" font-weight="normal" fill="#4F4F4F" textLength="18.0" lengthAdjust="spacingAndGlyphs">20,00</text>
<text transform="translate(36.2,385.7)" font-size="9" text-anchor="end" font-weight="normal" fill="#4F4F4F" textLength="18.0" lengthAdjust="spacingAndGlyphs">25,00</text>
<text transform="translate(36.2,361.0)" font-size="9" text-anchor="end" font-weight="normal" fill="#4F4F4F" textLength="18.0" lengthAdjust="spacingAndGlyphs">30,00</text>
<text transform="translate(36.2,336.4)" font-size="9" text-anchor="end" font-weight="normal" fill="#4F4F4F" textLength="18.0" lengthAdjust="spacingAndGlyphs">35,00</text>
<text transform="translate(36.2,311.7)" font-size="9" text-anchor="end" font-weight="normal" fill="#4F4F4F" textLength="18.0" lengthAdjust="spacingAndGlyphs">40,00</text>
<text transform="translate(11.8,485.3) rotate(-90)" font-size="7.7" text-anchor="start" font-weight="bold" fill="#505050" textLength="157.9" lengthAdjust="spacingAndGlyphs">Physicochemical properties measures</text>
<text transform="translate(121.3,521.5)" font-size="10.2" text-anchor="middle" font-weight="normal" fill="#4F4F4F" textLength="19.3" lengthAdjust="spacingAndGlyphs">Marsh</text>
<text transform="translate(155.3,521.5)" font-size="10.2" text-anchor="middle" font-weight="normal" fill="#4F4F4F" textLength="36.8" lengthAdjust="spacingAndGlyphs">Rain puddle</text>
<text transform="translate(187.8,521.5)" font-size="10.2" text-anchor="middle" font-weight="normal" fill="#4F4F4F" textLength="22.0" lengthAdjust="spacingAndGlyphs">Stream</text>
<text transform="translate(220.8,521.5)" font-size="10.2" text-anchor="middle" font-weight="normal" fill="#4F4F4F" textLength="32.8" lengthAdjust="spacingAndGlyphs">Water tank</text>
<text transform="translate(172.6,542.7)" font-size="10.5" text-anchor="middle" font-weight="bold" fill="#595959" textLength="55.4" lengthAdjust="spacingAndGlyphs">Breading site type</text>
<text transform="translate(67.9,562.5)" font-size="16.5" text-anchor="middle" font-weight="bold" fill="#000" textLength="21.8" lengthAdjust="spacingAndGlyphs">(C)</text>
<polyline points="102.5,336.3 102.5,332.4 137.1,332.4 137.1,336.3" fill="none" stroke="#8C8C8C" stroke-width="1.15"/>
<polyline points="139.5,337.5 139.5,333.6 173.3,333.6 173.3,337.5" fill="none" stroke="#8C8C8C" stroke-width="1.15"/>
<polyline points="173.2,358.7 173.2,354.6 204.1,354.6 204.1,358.7" fill="none" stroke="#8C8C8C" stroke-width="1.15"/>
<polyline points="204.7,370.6 204.7,366.6 238.0,366.6 238.0,370.6" fill="none" stroke="#8C8C8C" stroke-width="1.15"/>
<line x1="115.9" y1="350.4" x2="115.9" y2="356.1" stroke="#ED7D31" stroke-width="0.9" />
<line x1="115.9" y1="365.2" x2="115.9" y2="377.3" stroke="#ED7D31" stroke-width="0.9" />
<line x1="114.4" y1="350.4" x2="117.4" y2="350.4" stroke="#ED7D31" stroke-width="0.9" />
<line x1="114.4" y1="377.3" x2="117.4" y2="377.3" stroke="#ED7D31" stroke-width="0.9" />
<rect x="113.0" y="356.1" width="6.6" height="9.1" stroke="#ED7D31" fill="none" stroke-width="0.95" />
<line x1="113.0" y1="363.0" x2="119.6" y2="363.0" stroke="#ED7D31" stroke-width="0.95" />
<line x1="113.6" y1="356.4" x2="118.2" y2="362.6" stroke="#ED7D31" stroke-width="1" />
<line x1="113.6" y1="362.6" x2="118.2" y2="356.4" stroke="#ED7D31" stroke-width="1" />
<ellipse cx="115.9" cy="336.2" rx="1.1" ry="1.6" stroke="#ED7D31" fill="#fff" stroke-width="0.9"/>
<ellipse cx="115.9" cy="340.4" rx="1.1" ry="1.6" stroke="#ED7D31" fill="#fff" stroke-width="0.9"/>
<ellipse cx="115.9" cy="381.0" rx="1.1" ry="1.6" stroke="#ED7D31" fill="#fff" stroke-width="0.9"/>
<ellipse cx="115.9" cy="384.3" rx="1.1" ry="1.6" stroke="#ED7D31" fill="#fff" stroke-width="0.9"/>
<ellipse cx="115.9" cy="387.6" rx="1.1" ry="1.6" stroke="#ED7D31" fill="#fff" stroke-width="0.9"/>
<ellipse cx="115.9" cy="390.9" rx="1.1" ry="1.6" stroke="#ED7D31" fill="#fff" stroke-width="0.9"/>
<rect x="145.8" y="355.6" width="6.2" height="8.4" stroke="#ED7D31" fill="none" stroke-width="0.95" />
<line x1="146.1" y1="356.4" x2="150.7" y2="362.6" stroke="#ED7D31" stroke-width="1" />
<line x1="146.1" y1="362.6" x2="150.7" y2="356.4" stroke="#ED7D31" stroke-width="1" />
<ellipse cx="148.4" cy="337.8" rx="1.1" ry="1.6" stroke="#ED7D31" fill="#fff" stroke-width="0.9"/>
<ellipse cx="148.4" cy="345.7" rx="1.1" ry="1.6" stroke="#ED7D31" fill="#fff" stroke-width="0.9"/>
<ellipse cx="148.4" cy="369.5" rx="1.1" ry="1.6" stroke="#ED7D31" fill="#fff" stroke-width="0.9"/>
<ellipse cx="148.4" cy="377.3" rx="1.1" ry="1.6" stroke="#ED7D31" fill="#fff" stroke-width="0.9"/>
<ellipse cx="148.4" cy="385.2" rx="1.1" ry="1.6" stroke="#ED7D31" fill="#fff" stroke-width="0.9"/>
<ellipse cx="148.4" cy="396.7" rx="1.1" ry="1.6" stroke="#ED7D31" fill="#fff" stroke-width="0.9"/>
<ellipse cx="148.4" cy="505.6" rx="1.1" ry="1.6" stroke="#ED7D31" fill="#ED7D31" stroke-width="0.9"/>
<line x1="181.9" y1="371.0" x2="181.9" y2="374.8" stroke="#ED7D31" stroke-width="0.9" />
<line x1="181.9" y1="382.0" x2="181.9" y2="388.5" stroke="#ED7D31" stroke-width="0.9" />
<line x1="180.4" y1="371.0" x2="183.4" y2="371.0" stroke="#ED7D31" stroke-width="0.9" />
<line x1="180.4" y1="388.5" x2="183.4" y2="388.5" stroke="#ED7D31" stroke-width="0.9" />
<rect x="178.8" y="374.8" width="7.2" height="7.2" stroke="#ED7D31" fill="none" stroke-width="0.95" />
<line x1="179.6" y1="375.4" x2="184.2" y2="381.6" stroke="#ED7D31" stroke-width="1" />
<line x1="179.6" y1="381.6" x2="184.2" y2="375.4" stroke="#ED7D31" stroke-width="1" />
<ellipse cx="181.9" cy="360.4" rx="1.1" ry="1.6" stroke="#ED7D31" fill="#fff" stroke-width="0.9"/>
<line x1="212.0" y1="370.9" x2="218.0" y2="376.9" stroke="#ED7D31" stroke-width="1.3" />
<line x1="212.0" y1="376.9" x2="218.0" y2="370.9" stroke="#ED7D31" stroke-width="1.3" />
<line x1="211.4" y1="373.9" x2="218.6" y2="373.9" stroke="#ED7D31" stroke-width="1.3" />
<line x1="109.7" y1="417.1" x2="109.7" y2="439.9" stroke="#FFC000" stroke-width="0.9" />
<line x1="109.7" y1="497.7" x2="109.7" y2="505.5" stroke="#FFC000" stroke-width="0.9" />
<line x1="108.2" y1="417.1" x2="111.2" y2="417.1" stroke="#FFC000" stroke-width="0.9" />
<line x1="108.2" y1="505.5" x2="111.2" y2="505.5" stroke="#FFC000" stroke-width="0.9" />
<rect x="106.3" y="439.9" width="6.3" height="57.8" stroke="#FFC000" fill="none" stroke-width="0.95" />
<line x1="106.3" y1="475.5" x2="112.6" y2="475.5" stroke="#FFC000" stroke-width="0.95" />
<line x1="107.4" y1="470.4" x2="112.0" y2="476.6" stroke="#FFC000" stroke-width="1" />
<line x1="107.4" y1="476.6" x2="112.0" y2="470.4" stroke="#FFC000" stroke-width="1" />
<ellipse cx="142.1" cy="495.5" rx="1.1" ry="1.6" stroke="#FFC000" fill="#fff" stroke-width="0.9"/>
<polygon points="141.2,497.5 143.0,497.5 143.5,500.9 145.3,503.4 143.9,505.0 140.3,505.0 138.9,503.4 140.7,500.9" fill="#FFC000" fill-opacity="0.8" stroke="#FFC000" stroke-width="0.8" stroke-linejoin="round"/>
<line x1="140.5" y1="501.6" x2="143.7" y2="503.9" stroke="#fff" stroke-width="0.6" stroke-opacity="0.55"/>
<line x1="140.5" y1="503.9" x2="143.7" y2="501.6" stroke="#fff" stroke-width="0.6" stroke-opacity="0.55"/>
<polygon points="174.2,500.5 176.0,500.5 176.5,502.5 178.2,503.4 176.8,505.0 173.4,505.0 171.9,503.4 173.7,502.5" fill="#FFC000" fill-opacity="0.8" stroke="#FFC000" stroke-width="0.8" stroke-linejoin="round"/>
<line x1="173.5" y1="502.4" x2="176.7" y2="504.8" stroke="#fff" stroke-width="0.6" stroke-opacity="0.55"/>
<line x1="173.5" y1="504.8" x2="176.7" y2="502.4" stroke="#fff" stroke-width="0.6" stroke-opacity="0.55"/>
<polygon points="207.0,500.8 208.8,500.8 209.2,502.7 210.9,503.4 209.6,505.0 206.2,505.0 204.9,503.4 206.6,502.7" fill="#FFC000" fill-opacity="0.8" stroke="#FFC000" stroke-width="0.8" stroke-linejoin="round"/>
<line x1="206.4" y1="502.5" x2="209.4" y2="504.9" stroke="#fff" stroke-width="0.6" stroke-opacity="0.55"/>
<line x1="206.4" y1="504.9" x2="209.4" y2="502.5" stroke="#fff" stroke-width="0.6" stroke-opacity="0.55"/>
<line x1="122.7" y1="460.3" x2="122.7" y2="462.4" stroke="#5B9BD5" stroke-width="0.9" />
<line x1="122.7" y1="470.8" x2="122.7" y2="473.9" stroke="#5B9BD5" stroke-width="0.9" />
<line x1="121.2" y1="460.3" x2="124.2" y2="460.3" stroke="#5B9BD5" stroke-width="0.9" />
<line x1="121.2" y1="473.9" x2="124.2" y2="473.9" stroke="#5B9BD5" stroke-width="0.9" />
<rect x="119.6" y="462.4" width="6.6" height="8.4" stroke="#5B9BD5" fill="none" stroke-width="0.95" />
<line x1="120.4" y1="463.4" x2="125.0" y2="469.6" stroke="#5B9BD5" stroke-width="1" />
<line x1="120.4" y1="469.6" x2="125.0" y2="463.4" stroke="#5B9BD5" stroke-width="1" />
<ellipse cx="122.7" cy="505.6" rx="1.1" ry="1.6" stroke="#5B9BD5" fill="#5B9BD5" stroke-width="0.9"/>
<line x1="155.5" y1="457.3" x2="155.5" y2="464.1" stroke="#5B9BD5" stroke-width="0.9" />
<line x1="155.5" y1="471.4" x2="155.5" y2="473.3" stroke="#5B9BD5" stroke-width="0.9" />
<line x1="154.0" y1="457.3" x2="157.0" y2="457.3" stroke="#5B9BD5" stroke-width="0.9" />
<line x1="154.0" y1="473.3" x2="157.0" y2="473.3" stroke="#5B9BD5" stroke-width="0.9" />
<rect x="152.0" y="464.1" width="7.2" height="7.3" stroke="#5B9BD5" fill="none" stroke-width="0.95" />
<line x1="153.2" y1="464.4" x2="157.8" y2="470.6" stroke="#5B9BD5" stroke-width="1" />
<line x1="153.2" y1="470.6" x2="157.8" y2="464.4" stroke="#5B9BD5" stroke-width="1" />
<ellipse cx="155.5" cy="505.6" rx="1.1" ry="1.6" stroke="#5B9BD5" fill="#5B9BD5" stroke-width="0.9"/>
<line x1="188.4" y1="464.0" x2="188.4" y2="467.0" stroke="#5B9BD5" stroke-width="1" />
<line x1="188.4" y1="472.5" x2="188.4" y2="475.0" stroke="#5B9BD5" stroke-width="1" />
<ellipse cx="188.4" cy="465.0" rx="1.1" ry="1.6" stroke="#5B9BD5" fill="#fff" stroke-width="0.9"/>
<ellipse cx="188.4" cy="491.3" rx="1.1" ry="1.6" stroke="#5B9BD5" fill="#fff" stroke-width="0.9"/>
<polygon points="187.5,467.0 189.3,467.0 190.0,469.5 191.9,470.9 190.3,472.5 186.5,472.5 184.9,470.9 186.8,469.5" fill="#5B9BD5" fill-opacity="0.8" stroke="#5B9BD5" stroke-width="0.8" stroke-linejoin="round"/>
<line x1="186.7" y1="469.7" x2="190.2" y2="472.1" stroke="#fff" stroke-width="0.6" stroke-opacity="0.55"/>
<line x1="186.7" y1="472.1" x2="190.2" y2="469.7" stroke="#fff" stroke-width="0.6" stroke-opacity="0.55"/>
<line x1="218.8" y1="460.0" x2="224.8" y2="466.0" stroke="#5B9BD5" stroke-width="1.3" />
<line x1="218.8" y1="466.0" x2="224.8" y2="460.0" stroke="#5B9BD5" stroke-width="1.3" />
<line x1="218.2" y1="463.0" x2="225.4" y2="463.0" stroke="#5B9BD5" stroke-width="1.3" />
<line x1="129.3" y1="417.1" x2="129.3" y2="434.7" stroke="#70AD47" stroke-width="0.9" />
<line x1="129.3" y1="498.2" x2="129.3" y2="505.5" stroke="#70AD47" stroke-width="0.9" />
<line x1="127.8" y1="417.1" x2="130.8" y2="417.1" stroke="#70AD47" stroke-width="0.9" />
<line x1="127.8" y1="505.5" x2="130.8" y2="505.5" stroke="#70AD47" stroke-width="0.9" />
<rect x="126.2" y="434.7" width="6.5" height="63.5" stroke="#70AD47" fill="none" stroke-width="0.95" />
<line x1="127.0" y1="468.3" x2="131.6" y2="474.5" stroke="#70AD47" stroke-width="1" />
<line x1="127.0" y1="474.5" x2="131.6" y2="468.3" stroke="#70AD47" stroke-width="1" />
<ellipse cx="162.2" cy="497.5" rx="1.1" ry="1.6" stroke="#70AD47" fill="#fff" stroke-width="0.9"/>
<polygon points="161.3,499.0 163.1,499.0 163.4,501.7 164.9,503.4 163.7,505.0 160.7,505.0 159.5,503.4 161.0,501.7" fill="#70AD47" fill-opacity="0.8" stroke="#70AD47" stroke-width="0.8" stroke-linejoin="round"/>
<line x1="160.8" y1="502.0" x2="163.5" y2="504.4" stroke="#fff" stroke-width="0.6" stroke-opacity="0.55"/>
<line x1="160.8" y1="504.4" x2="163.5" y2="502.0" stroke="#fff" stroke-width="0.6" stroke-opacity="0.55"/>
<line x1="192.1" y1="499.8" x2="197.7" y2="505.4" stroke="#70AD47" stroke-width="1.6" />
<line x1="192.1" y1="505.4" x2="197.7" y2="499.8" stroke="#70AD47" stroke-width="1.6" />
<line x1="224.6" y1="500.2" x2="230.2" y2="505.8" stroke="#70AD47" stroke-width="1.6" />
<line x1="224.6" y1="505.8" x2="230.2" y2="500.2" stroke="#70AD47" stroke-width="1.6" />
<line x1="135.8" y1="450.4" x2="135.8" y2="482.5" stroke="#A5A5A5" stroke-width="0.9" />
<line x1="134.3" y1="450.4" x2="137.3" y2="450.4" stroke="#A5A5A5" stroke-width="0.9" />
<rect x="133.2" y="482.5" width="5.3" height="22.0" stroke="#A5A5A5" fill="none" stroke-width="0.95" />
<line x1="133.2" y1="501.4" x2="138.5" y2="501.4" stroke="#A5A5A5" stroke-width="0.95" />
<line x1="133.5" y1="484.1" x2="138.1" y2="490.3" stroke="#A5A5A5" stroke-width="1" />
<line x1="133.5" y1="490.3" x2="138.1" y2="484.1" stroke="#A5A5A5" stroke-width="1" />
<ellipse cx="135.8" cy="397.7" rx="1.1" ry="1.6" stroke="#A5A5A5" fill="#fff" stroke-width="0.9"/>
<line x1="168.5" y1="490.3" x2="168.5" y2="495.3" stroke="#A5A5A5" stroke-width="0.9" />
<line x1="168.5" y1="502.3" x2="168.5" y2="505.0" stroke="#A5A5A5" stroke-width="0.9" />
<line x1="167.0" y1="490.3" x2="170.0" y2="490.3" stroke="#A5A5A5" stroke-width="0.9" />
<line x1="167.0" y1="505.0" x2="170.0" y2="505.0" stroke="#A5A5A5" stroke-width="0.9" />
<rect x="165.8" y="495.3" width="5.4" height="7.0" stroke="#A5A5A5" fill="none" stroke-width="0.95" />
<line x1="166.2" y1="495.7" x2="170.8" y2="501.9" stroke="#A5A5A5" stroke-width="1" />
<line x1="166.2" y1="501.9" x2="170.8" y2="495.7" stroke="#A5A5A5" stroke-width="1" />
<rect x="199.6" y="497.5" width="4.6" height="4.0" stroke="#A5A5A5" fill="none" stroke-width="0.95" />
<line x1="199.6" y1="496.4" x2="204.2" y2="502.6" stroke="#A5A5A5" stroke-width="1" />
<line x1="199.6" y1="502.6" x2="204.2" y2="496.4" stroke="#A5A5A5" stroke-width="1" />
<line x1="230.5" y1="498.7" x2="236.1" y2="504.3" stroke="#A5A5A5" stroke-width="1.4" />
<line x1="230.5" y1="504.3" x2="236.1" y2="498.7" stroke="#A5A5A5" stroke-width="1.4" />
<rect x="267.7" y="314.0" width="9.5" height="5.5" stroke="#FFC000" fill="#fff" stroke-width="1.1" stroke-opacity="0.65"/>
<text transform="translate(287.0,319.2)" font-size="7.6" text-anchor="start" font-weight="normal" fill="#595959" textLength="12.6" lengthAdjust="spacingAndGlyphs">TDS</text>
<rect x="267.7" y="323.8" width="9.5" height="5.5" stroke="#ED7D31" fill="#fff" stroke-width="1.1" stroke-opacity="0.65"/>
<text transform="translate(287.0,329.0)" font-size="7.6" text-anchor="start" font-weight="normal" fill="#595959" textLength="37.6" lengthAdjust="spacingAndGlyphs">Temperature</text>
<rect x="267.7" y="335.6" width="9.5" height="5.5" stroke="#5B9BD5" fill="#fff" stroke-width="1.1" stroke-opacity="0.65"/>
<text transform="translate(287.0,340.8)" font-size="7.6" text-anchor="start" font-weight="normal" fill="#595959" textLength="8.5" lengthAdjust="spacingAndGlyphs">pH</text>
<rect x="267.7" y="346.1" width="9.5" height="5.5" stroke="#70AD47" fill="#fff" stroke-width="1.1" stroke-opacity="0.65"/>
<text transform="translate(287.0,351.3)" font-size="7.6" text-anchor="start" font-weight="normal" fill="#595959" textLength="21.0" lengthAdjust="spacingAndGlyphs">Salinity</text>
<rect x="267.7" y="357.0" width="9.5" height="5.5" stroke="#C4C2D2" fill="#fff" stroke-width="1.1" stroke-opacity="0.65"/>
<text transform="translate(287.0,362.2)" font-size="7.6" text-anchor="start" font-weight="normal" fill="#595959" textLength="35.5" lengthAdjust="spacingAndGlyphs">Conductivity</text>
<line x1="408.6" y1="481.2" x2="607.9" y2="481.2" stroke="#D9D9D9" stroke-width="1.2" />
<line x1="408.6" y1="456.7" x2="607.9" y2="456.7" stroke="#D9D9D9" stroke-width="1.2" />
<line x1="408.6" y1="432.1" x2="607.9" y2="432.1" stroke="#D9D9D9" stroke-width="1.2" />
<line x1="408.6" y1="407.5" x2="607.9" y2="407.5" stroke="#D9D9D9" stroke-width="1.2" />
<line x1="408.6" y1="382.9" x2="607.9" y2="382.9" stroke="#D9D9D9" stroke-width="1.2" />
<line x1="408.6" y1="358.4" x2="597.5" y2="358.4" stroke="#D9D9D9" stroke-width="1.2" />
<line x1="408.6" y1="333.8" x2="597.5" y2="333.8" stroke="#D9D9D9" stroke-width="1.2" />
<line x1="408.6" y1="309.2" x2="597.5" y2="309.2" stroke="#D9D9D9" stroke-width="1.2" />
<line x1="408.6" y1="308.6" x2="408.6" y2="505.8" stroke="#D9D9D9" stroke-width="1.5" />
<line x1="407.9" y1="505.8" x2="607.9" y2="505.8" stroke="#A6A6A6" stroke-width="1.8" />
<text transform="translate(404.2,508.8)" font-size="9" text-anchor="end" font-weight="normal" fill="#4F4F4F" textLength="12.8" lengthAdjust="spacingAndGlyphs">0,00</text>
<text transform="translate(404.2,484.2)" font-size="9" text-anchor="end" font-weight="normal" fill="#4F4F4F" textLength="12.8" lengthAdjust="spacingAndGlyphs">5,00</text>
<text transform="translate(404.2,459.7)" font-size="9" text-anchor="end" font-weight="normal" fill="#4F4F4F" textLength="16.4" lengthAdjust="spacingAndGlyphs">10,00</text>
<text transform="translate(404.2,435.1)" font-size="9" text-anchor="end" font-weight="normal" fill="#4F4F4F" textLength="16.4" lengthAdjust="spacingAndGlyphs">15,00</text>
<text transform="translate(404.2,410.5)" font-size="9" text-anchor="end" font-weight="normal" fill="#4F4F4F" textLength="16.4" lengthAdjust="spacingAndGlyphs">20,00</text>
<text transform="translate(404.2,385.9)" font-size="9" text-anchor="end" font-weight="normal" fill="#4F4F4F" textLength="16.4" lengthAdjust="spacingAndGlyphs">25,00</text>
<text transform="translate(404.2,361.4)" font-size="9" text-anchor="end" font-weight="normal" fill="#4F4F4F" textLength="16.4" lengthAdjust="spacingAndGlyphs">30,00</text>
<text transform="translate(404.2,336.8)" font-size="9" text-anchor="end" font-weight="normal" fill="#4F4F4F" textLength="16.4" lengthAdjust="spacingAndGlyphs">35,00</text>
<text transform="translate(404.2,312.2)" font-size="9" text-anchor="end" font-weight="normal" fill="#4F4F4F" textLength="16.4" lengthAdjust="spacingAndGlyphs">40,00</text>
<text transform="translate(381.2,483.4) rotate(-90)" font-size="7.7" text-anchor="start" font-weight="bold" fill="#505050" textLength="152.3" lengthAdjust="spacingAndGlyphs">Physicochemical proteries measures</text>
<text transform="translate(483.4,523.2)" font-size="10.2" text-anchor="middle" font-weight="normal" fill="#4F4F4F" textLength="18.1" lengthAdjust="spacingAndGlyphs">Marsh</text>
<text transform="translate(519.3,523.2)" font-size="10.2" text-anchor="middle" font-weight="normal" fill="#4F4F4F" textLength="35.0" lengthAdjust="spacingAndGlyphs">Rain puddle</text>
<text transform="translate(549.2,523.2)" font-size="10.2" text-anchor="middle" font-weight="normal" fill="#4F4F4F" textLength="21.7" lengthAdjust="spacingAndGlyphs">Stream</text>
<text transform="translate(578.4,523.2)" font-size="10.2" text-anchor="middle" font-weight="normal" fill="#4F4F4F" textLength="31.9" lengthAdjust="spacingAndGlyphs">Water tank</text>
<text transform="translate(530.8,542.7)" font-size="10.5" text-anchor="middle" font-weight="bold" fill="#595959" textLength="55.8" lengthAdjust="spacingAndGlyphs">Breeding site type</text>
<text transform="translate(430.5,563.3)" font-size="16.5" text-anchor="middle" font-weight="bold" fill="#000" textLength="20.9" lengthAdjust="spacingAndGlyphs">(d)</text>
<polyline points="456.3,336.8 456.3,333.1 488.7,333.1 488.7,336.8" fill="none" stroke="#8C8C8C" stroke-width="1.15"/>
<polyline points="490.1,335.5 490.1,331.8 522.6,331.8 522.6,335.5" fill="none" stroke="#8C8C8C" stroke-width="1.15"/>
<polyline points="525.6,376.7 525.6,372.3 554.1,372.3 554.1,376.7" fill="none" stroke="#8C8C8C" stroke-width="1.15"/>
<polyline points="556.4,372.0 556.4,368.0 588.3,368.0 588.3,372.0" fill="none" stroke="#8C8C8C" stroke-width="1.15"/>
<line x1="478.6" y1="336.8" x2="478.6" y2="338.6" stroke="#ED7D31" stroke-width="0.9" />
<line x1="478.6" y1="377.9" x2="478.6" y2="382.4" stroke="#ED7D31" stroke-width="0.9" />
<line x1="477.1" y1="336.8" x2="480.1" y2="336.8" stroke="#ED7D31" stroke-width="0.9" />
<line x1="477.1" y1="382.4" x2="480.1" y2="382.4" stroke="#ED7D31" stroke-width="0.9" />
<rect x="475.4" y="338.6" width="6.3" height="39.3" stroke="#ED7D31" fill="none" stroke-width="0.95" />
<line x1="475.4" y1="371.8" x2="481.7" y2="371.8" stroke="#ED7D31" stroke-width="0.95" />
<line x1="476.3" y1="360.9" x2="480.9" y2="367.1" stroke="#ED7D31" stroke-width="1" />
<line x1="476.3" y1="367.1" x2="480.9" y2="360.9" stroke="#ED7D31" stroke-width="1" />
<rect x="505.6" y="357.2" width="6.0" height="5.8" stroke="#ED7D31" fill="none" stroke-width="0.95" />
<line x1="506.3" y1="356.9" x2="510.9" y2="363.1" stroke="#ED7D31" stroke-width="1" />
<line x1="506.3" y1="363.1" x2="510.9" y2="356.9" stroke="#ED7D31" stroke-width="1" />
<ellipse cx="508.6" cy="338.8" rx="1.1" ry="1.6" stroke="#ED7D31" fill="#fff" stroke-width="0.9"/>
<ellipse cx="508.6" cy="346.7" rx="1.1" ry="1.6" stroke="#ED7D31" fill="#fff" stroke-width="0.9"/>
<ellipse cx="508.6" cy="368.7" rx="1.1" ry="1.6" stroke="#ED7D31" fill="#fff" stroke-width="0.9"/>
<ellipse cx="508.6" cy="377.9" rx="1.1" ry="1.6" stroke="#ED7D31" fill="#fff" stroke-width="0.9"/>
<ellipse cx="508.6" cy="383.1" rx="1.1" ry="1.6" stroke="#ED7D31" fill="#fff" stroke-width="0.9"/>
<ellipse cx="508.6" cy="397.2" rx="1.1" ry="1.6" stroke="#ED7D31" fill="#fff" stroke-width="0.9"/>
<ellipse cx="508.6" cy="505.8" rx="1.1" ry="1.6" stroke="#ED7D31" fill="#ED7D31" stroke-width="0.9"/>
<ellipse cx="539.9" cy="376.5" rx="1.1" ry="1.6" stroke="#ED7D31" fill="#fff" stroke-width="0.9"/>
<polygon points="539.0,377.5 540.8,377.5 541.4,380.2 543.2,381.9 541.7,383.5 538.1,383.5 536.6,381.9 538.4,380.2" fill="#ED7D31" fill-opacity="0.8" stroke="#ED7D31" stroke-width="0.8" stroke-linejoin="round"/>
<line x1="538.2" y1="380.5" x2="541.5" y2="382.9" stroke="#fff" stroke-width="0.6" stroke-opacity="0.55"/>
<line x1="538.2" y1="382.9" x2="541.5" y2="380.5" stroke="#fff" stroke-width="0.6" stroke-opacity="0.55"/>
<line x1="567.2" y1="371.4" x2="573.2" y2="377.4" stroke="#ED7D31" stroke-width="1.3" />
<line x1="567.2" y1="377.4" x2="573.2" y2="371.4" stroke="#ED7D31" stroke-width="1.3" />
<line x1="566.6" y1="374.4" x2="573.8" y2="374.4" stroke="#ED7D31" stroke-width="1.3" />
<line x1="472.3" y1="489.8" x2="472.3" y2="492.4" stroke="#FFC000" stroke-width="0.9" />
<line x1="472.3" y1="504.5" x2="472.3" y2="505.8" stroke="#FFC000" stroke-width="0.9" />
<line x1="470.8" y1="489.8" x2="473.8" y2="489.8" stroke="#FFC000" stroke-width="0.9" />
<line x1="470.8" y1="505.8" x2="473.8" y2="505.8" stroke="#FFC000" stroke-width="0.9" />
<rect x="469.1" y="492.4" width="6.3" height="12.1" stroke="#FFC000" fill="none" stroke-width="0.95" />
<line x1="470.0" y1="495.4" x2="474.6" y2="501.6" stroke="#FFC000" stroke-width="1" />
<line x1="470.0" y1="501.6" x2="474.6" y2="495.4" stroke="#FFC000" stroke-width="1" />
<ellipse cx="502.6" cy="499.5" rx="1.1" ry="1.6" stroke="#FFC000" fill="#fff" stroke-width="0.9"/>
<polygon points="501.7,500.5 503.5,500.5 503.9,503.0 505.4,504.4 504.1,506.0 501.1,506.0 499.8,504.4 501.3,503.0" fill="#FFC000" fill-opacity="0.8" stroke="#FFC000" stroke-width="0.8" stroke-linejoin="round"/>
<line x1="501.2" y1="503.2" x2="504.0" y2="505.6" stroke="#fff" stroke-width="0.6" stroke-opacity="0.55"/>
<line x1="501.2" y1="505.6" x2="504.0" y2="503.2" stroke="#fff" stroke-width="0.6" stroke-opacity="0.55"/>
<polygon points="532.4,501.5 534.2,501.5 534.6,503.5 536.2,504.4 534.9,506.0 531.7,506.0 530.4,504.4 532.0,503.5" fill="#FFC000" fill-opacity="0.8" stroke="#FFC000" stroke-width="0.8" stroke-linejoin="round"/>
<line x1="531.8" y1="503.4" x2="534.8" y2="505.8" stroke="#fff" stroke-width="0.6" stroke-opacity="0.55"/>
<line x1="531.8" y1="505.8" x2="534.8" y2="503.4" stroke="#fff" stroke-width="0.6" stroke-opacity="0.55"/>
<polygon points="562.9,501.5 564.7,501.5 565.1,503.5 566.8,504.4 565.4,506.0 562.1,506.0 560.8,504.4 562.4,503.5" fill="#FFC000" fill-opacity="0.8" stroke="#FFC000" stroke-width="0.8" stroke-linejoin="round"/>
<line x1="562.3" y1="503.4" x2="565.3" y2="505.8" stroke="#fff" stroke-width="0.6" stroke-opacity="0.55"/>
<line x1="562.3" y1="505.8" x2="565.3" y2="503.4" stroke="#fff" stroke-width="0.6" stroke-opacity="0.55"/>
<line x1="484.8" y1="460.5" x2="484.8" y2="461.5" stroke="#5B9BD5" stroke-width="0.9" />
<line x1="483.3" y1="460.5" x2="486.3" y2="460.5" stroke="#5B9BD5" stroke-width="0.9" />
<rect x="481.7" y="461.5" width="6.6" height="10.0" stroke="#5B9BD5" fill="none" stroke-width="0.95" />
<line x1="482.5" y1="463.4" x2="487.1" y2="469.6" stroke="#5B9BD5" stroke-width="1" />
<line x1="482.5" y1="469.6" x2="487.1" y2="463.4" stroke="#5B9BD5" stroke-width="1" />
<ellipse cx="515.2" cy="457.3" rx="1.1" ry="1.6" stroke="#5B9BD5" fill="#fff" stroke-width="0.9"/>
<ellipse cx="515.2" cy="461.5" rx="1.1" ry="1.6" stroke="#5B9BD5" fill="#fff" stroke-width="0.9"/>
<ellipse cx="515.2" cy="505.8" rx="1.1" ry="1.6" stroke="#5B9BD5" fill="#5B9BD5" stroke-width="0.9"/>
<line x1="515.2" y1="466.5" x2="515.2" y2="475.0" stroke="#5B9BD5" stroke-width="1.1" />
<line x1="513.7" y1="466.9" x2="516.7" y2="466.9" stroke="#5B9BD5" stroke-width="1" />
<line x1="513.7" y1="474.6" x2="516.7" y2="474.6" stroke="#5B9BD5" stroke-width="1" />
<rect x="512.7" y="468.4" width="5.4" height="4.8" fill="#5B9BD5" fill-opacity="0.35" stroke="#5B9BD5" stroke-width="1.2"/>
<line x1="512.8" y1="467.8" x2="517.6" y2="473.8" stroke="#5B9BD5" stroke-width="1.1" />
<line x1="512.8" y1="473.8" x2="517.6" y2="467.8" stroke="#5B9BD5" stroke-width="1.1" />
<line x1="545.5" y1="466.0" x2="545.5" y2="472.0" stroke="#5B9BD5" stroke-width="1.1" />
<line x1="544.0" y1="466.4" x2="547.0" y2="466.4" stroke="#5B9BD5" stroke-width="1" />
<line x1="544.0" y1="471.6" x2="547.0" y2="471.6" stroke="#5B9BD5" stroke-width="1" />
<rect x="543.1" y="467.3" width="5.4" height="3.4" fill="#5B9BD5" fill-opacity="0.35" stroke="#5B9BD5" stroke-width="1.2"/>
<line x1="543.1" y1="466.5" x2="547.9" y2="471.5" stroke="#5B9BD5" stroke-width="1.1" />
<line x1="543.1" y1="471.5" x2="547.9" y2="466.5" stroke="#5B9BD5" stroke-width="1.1" />
<line x1="573.4" y1="460.6" x2="579.4" y2="466.6" stroke="#5B9BD5" stroke-width="1.3" />
<line x1="573.4" y1="466.6" x2="579.4" y2="460.6" stroke="#5B9BD5" stroke-width="1.3" />
<line x1="572.8" y1="463.6" x2="580.0" y2="463.6" stroke="#5B9BD5" stroke-width="1.3" />
<line x1="491.1" y1="491.7" x2="491.1" y2="494.0" stroke="#70AD47" stroke-width="0.9" />
<line x1="491.1" y1="504.5" x2="491.1" y2="505.8" stroke="#70AD47" stroke-width="0.9" />
<line x1="489.6" y1="491.7" x2="492.6" y2="491.7" stroke="#70AD47" stroke-width="0.9" />
<line x1="489.6" y1="505.8" x2="492.6" y2="505.8" stroke="#70AD47" stroke-width="0.9" />
<rect x="488.0" y="494.0" width="6.3" height="10.5" stroke="#70AD47" fill="none" stroke-width="0.95" />
<line x1="488.8" y1="495.9" x2="493.4" y2="502.1" stroke="#70AD47" stroke-width="1" />
<line x1="488.8" y1="502.1" x2="493.4" y2="495.9" stroke="#70AD47" stroke-width="1" />
<ellipse cx="521.5" cy="498.5" rx="1.1" ry="1.6" stroke="#70AD47" fill="#fff" stroke-width="0.9"/>
<polygon points="520.6,499.5 522.4,499.5 522.6,502.4 524.0,504.4 522.9,506.0 520.1,506.0 519.0,504.4 520.4,502.4" fill="#70AD47" fill-opacity="0.8" stroke="#70AD47" stroke-width="0.8" stroke-linejoin="round"/>
<line x1="520.2" y1="502.9" x2="522.8" y2="505.2" stroke="#fff" stroke-width="0.6" stroke-opacity="0.55"/>
<line x1="520.2" y1="505.2" x2="522.8" y2="502.9" stroke="#fff" stroke-width="0.6" stroke-opacity="0.55"/>
<line x1="549.0" y1="500.0" x2="554.6" y2="505.6" stroke="#70AD47" stroke-width="1.6" />
<line x1="549.0" y1="505.6" x2="554.6" y2="500.0" stroke="#70AD47" stroke-width="1.6" />
<line x1="579.4" y1="500.4" x2="585.0" y2="506.0" stroke="#70AD47" stroke-width="1.6" />
<line x1="579.4" y1="506.0" x2="585.0" y2="500.4" stroke="#70AD47" stroke-width="1.6" />
<line x1="496.9" y1="475.7" x2="496.9" y2="483.5" stroke="#A5A5A5" stroke-width="0.9" />
<line x1="496.9" y1="501.8" x2="496.9" y2="505.8" stroke="#A5A5A5" stroke-width="0.9" />
<line x1="495.4" y1="475.7" x2="498.4" y2="475.7" stroke="#A5A5A5" stroke-width="0.9" />
<line x1="495.4" y1="505.8" x2="498.4" y2="505.8" stroke="#A5A5A5" stroke-width="0.9" />
<rect x="494.3" y="483.5" width="5.9" height="18.3" stroke="#A5A5A5" fill="none" stroke-width="0.95" />
<line x1="494.6" y1="486.2" x2="499.2" y2="492.4" stroke="#A5A5A5" stroke-width="1" />
<line x1="494.6" y1="492.4" x2="499.2" y2="486.2" stroke="#A5A5A5" stroke-width="1" />
<line x1="527.0" y1="503.0" x2="527.0" y2="506.0" stroke="#A5A5A5" stroke-width="0.9" />
<line x1="525.5" y1="506.0" x2="528.5" y2="506.0" stroke="#A5A5A5" stroke-width="0.9" />
<rect x="525.2" y="497.0" width="4.0" height="6.0" stroke="#A5A5A5" fill="none" stroke-width="0.95" />
<ellipse cx="527.0" cy="494.0" rx="1.1" ry="1.6" stroke="#A5A5A5" fill="#fff" stroke-width="0.9"/>
<line x1="557.8" y1="503.5" x2="557.8" y2="506.0" stroke="#A5A5A5" stroke-width="0.9" />
<line x1="556.3" y1="506.0" x2="559.3" y2="506.0" stroke="#A5A5A5" stroke-width="0.9" />
<rect x="555.8" y="499.0" width="4.0" height="4.5" stroke="#A5A5A5" fill="none" stroke-width="0.95" />
<ellipse cx="557.8" cy="496.5" rx="1.1" ry="1.6" stroke="#A5A5A5" fill="#fff" stroke-width="0.9"/>
<line x1="585.7" y1="499.0" x2="591.3" y2="504.6" stroke="#A5A5A5" stroke-width="1.4" />
<line x1="585.7" y1="504.6" x2="591.3" y2="499.0" stroke="#A5A5A5" stroke-width="1.4" />
<rect x="612.4" y="316.9" width="9.8" height="5.7" stroke="#FFC000" fill="#fff" stroke-width="1.1" stroke-opacity="0.65"/>
<text transform="translate(632.0,322.3)" font-size="7.6" text-anchor="start" font-weight="normal" fill="#595959" textLength="12.6" lengthAdjust="spacingAndGlyphs">TDS</text>
<rect x="612.4" y="327.1" width="9.8" height="5.7" stroke="#ED7D31" fill="#fff" stroke-width="1.1" stroke-opacity="0.65"/>
<text transform="translate(632.0,332.5)" font-size="7.6" text-anchor="start" font-weight="normal" fill="#595959" textLength="37.6" lengthAdjust="spacingAndGlyphs">Temperature</text>
<rect x="612.4" y="338.4" width="9.8" height="5.7" stroke="#5B9BD5" fill="#fff" stroke-width="1.1" stroke-opacity="0.65"/>
<text transform="translate(632.0,343.8)" font-size="7.6" text-anchor="start" font-weight="normal" fill="#595959" textLength="8.5" lengthAdjust="spacingAndGlyphs">pH</text>
<rect x="612.4" y="349.3" width="9.8" height="5.7" stroke="#70AD47" fill="#fff" stroke-width="1.1" stroke-opacity="0.65"/>
<text transform="translate(632.0,354.7)" font-size="7.6" text-anchor="start" font-weight="normal" fill="#595959" textLength="21.0" lengthAdjust="spacingAndGlyphs">Salinity</text>
<rect x="612.4" y="360.3" width="9.8" height="5.7" stroke="#C4C2D2" fill="#fff" stroke-width="1.1" stroke-opacity="0.65"/>
<text transform="translate(632.0,365.7)" font-size="7.6" text-anchor="start" font-weight="normal" fill="#595959" textLength="35.2" lengthAdjust="spacingAndGlyphs">Conductivity</text>
</svg></body></html>
